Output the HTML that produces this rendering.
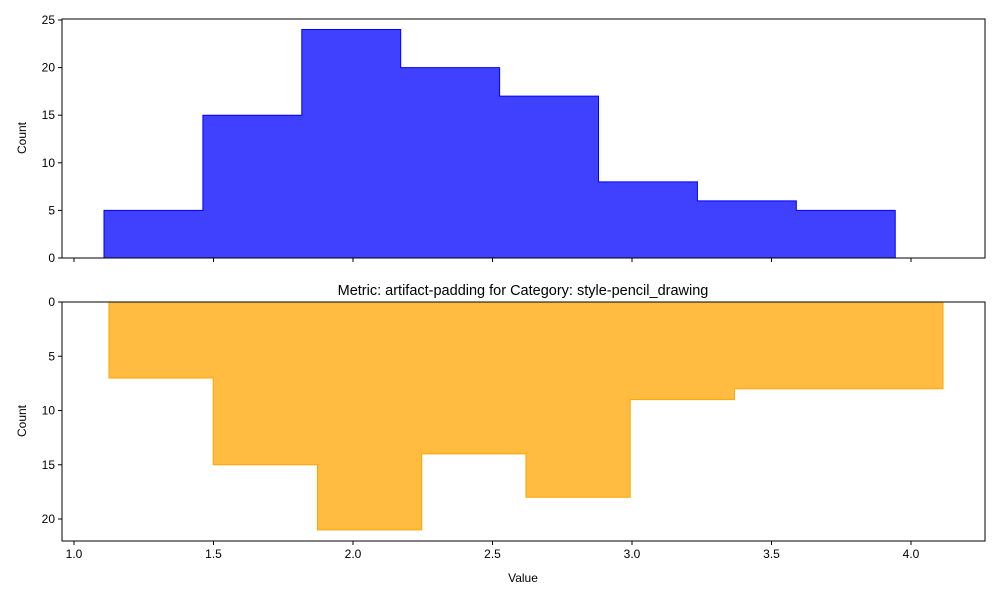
<!DOCTYPE html>
<html><head><meta charset="utf-8"><style>
body{margin:0;background:#fff}
svg{font-family:"Liberation Sans","DejaVu Sans",sans-serif}
</style></head><body>
<svg id="chart" width="1000" height="600" xmlns="http://www.w3.org/2000/svg"></svg>
<script>
const topEdges=[1.1075,1.4620,1.8165,2.1710,2.5255,2.8800,3.2345,3.5890,3.9435];
const topCounts=[5,15,24,20,17,8,6,5];
const botEdges=[1.1254,1.4990,1.8727,2.2463,2.6200,2.9936,3.3673,3.7409,4.1147];
const botCounts=[7,15,21,14,18,9,8,8];
const xTicks=[1.0,1.5,2.0,2.5,3.0,3.5,4.0];
const topYTicks=[0,5,10,15,20,25];
const botYTicks=[0,5,10,15,20];
const titleText="Metric: artifact-padding for Category: style-pencil_drawing";

const svg=document.getElementById('chart');
const NS="http://www.w3.org/2000/svg";
function mk(t,a,p){const e=document.createElementNS(NS,t);for(const k in a)e.setAttribute(k,a[k]);(p||svg).appendChild(e);return e;}
const L=62,R=985;
const X=v=>74+(v-1.0)*279;
const Yt=v=>258-v*9.52;
const Yb=v=>302+v*10.85;

function stepPath(edges,counts,Y){
  let d=`M${X(edges[0])},${Y(0)}`;
  for(let i=0;i<counts.length;i++){d+=` L${X(edges[i])},${Y(counts[i])} L${X(edges[i+1])},${Y(counts[i])}`;}
  d+=` L${X(edges[edges.length-1])},${Y(0)} Z`;return d;
}
// top panel
const gt=mk('g',{});


const p1=mk('path',{d:stepPath(topEdges,topCounts,Yt),fill:'rgba(0,0,255,0.75)',stroke:'#0000ff','stroke-width':1},gt);


mk('rect',{x:L,y:19,width:R-L,height:239,fill:'none',stroke:'#000','stroke-width':1},gt);
topYTicks.forEach(v=>{const y=Yt(v);mk('line',{x1:L-4,x2:L,y1:y,y2:y,stroke:'#000'},gt);
  const t=mk('text',{x:L-7,y:y+4,'text-anchor':'end','font-size':12},gt);t.textContent=v;
  
  });
xTicks.forEach(v=>{mk('line',{x1:X(v),x2:X(v),y1:258,y2:262,stroke:'#000'},gt);});
const yl1=mk('text',{x:26,y:138,'text-anchor':'middle','font-size':12,transform:'rotate(-90 26 138)'},gt);yl1.textContent='Count';


// bottom panel
const gb=mk('g',{});


const p2=mk('path',{d:stepPath(botEdges,botCounts,Yb),fill:'rgba(255,165,0,0.75)',stroke:'#ffa500','stroke-width':1},gb);


mk('rect',{x:L,y:302,width:R-L,height:239,fill:'none',stroke:'#000','stroke-width':1},gb);
botYTicks.forEach(v=>{const y=Yb(v);mk('line',{x1:L-4,x2:L,y1:y,y2:y,stroke:'#000'},gb);
  const t=mk('text',{x:L-7,y:y+4,'text-anchor':'end','font-size':12},gb);t.textContent=v;
  
  });
xTicks.forEach(v=>{mk('line',{x1:X(v),x2:X(v),y1:541,y2:545,stroke:'#000'},gb);
  const t=mk('text',{x:X(v),y:558,'text-anchor':'middle','font-size':12},gb);t.textContent=v.toFixed(1);
  
  });
const yl2=mk('text',{x:26,y:421,'text-anchor':'middle','font-size':12,transform:'rotate(-90 26 421)'},gb);yl2.textContent='Count';


const xl=mk('text',{x:523,y:582,'text-anchor':'middle','font-size':12},gb);xl.textContent='Value';


const tt=mk('text',{x:523,y:295,'text-anchor':'middle','font-size':14.5},gb);tt.textContent=titleText;


</script>
</body></html>
